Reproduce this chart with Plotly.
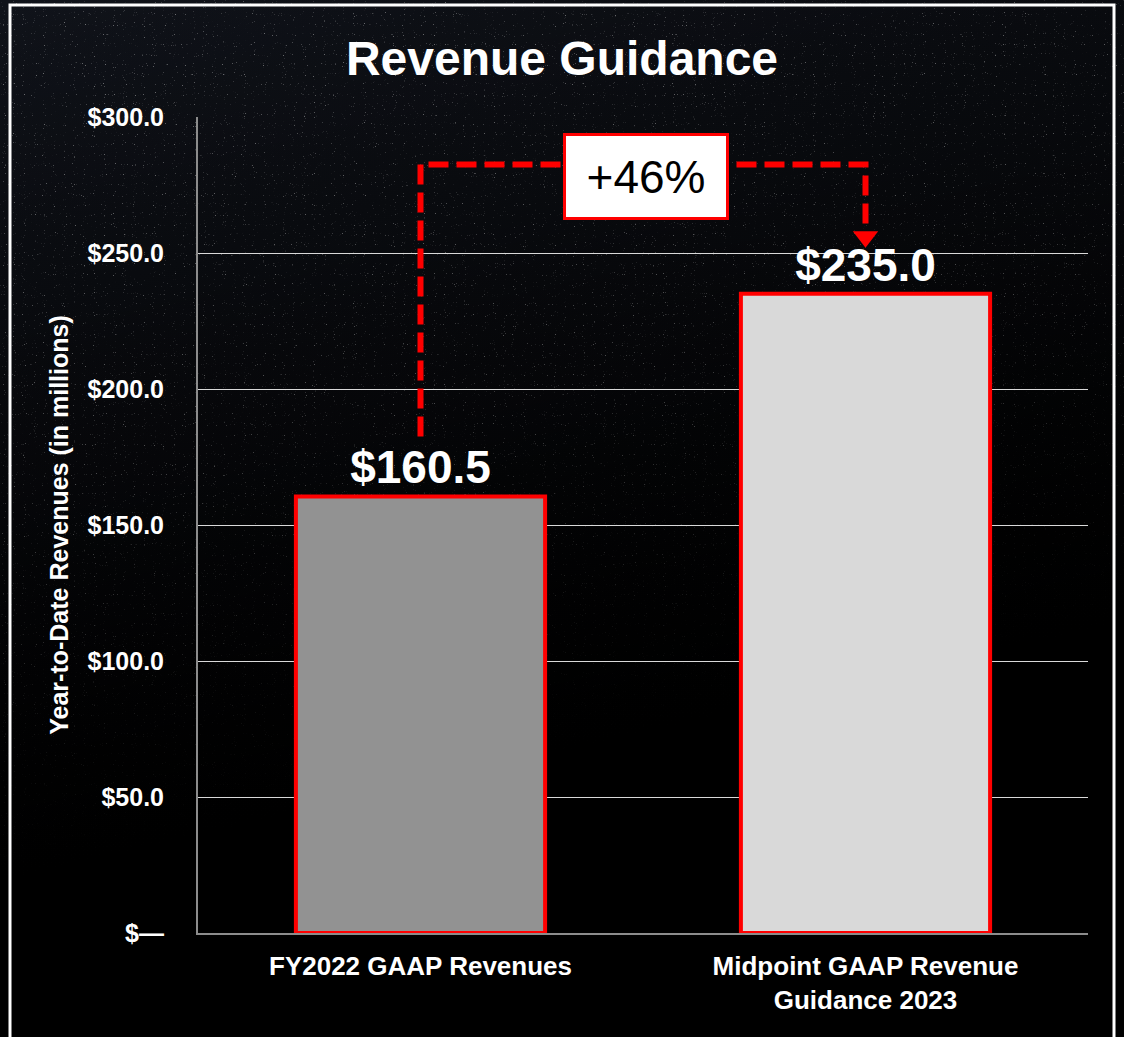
import base64
import plotly.graph_objects as go

# Chart data
categories = ["FY2022 GAAP Revenues", "Midpoint GAAP Revenue<br>Guidance 2023"]
revenues = [160.5, 235.0]
bar_colors = ["#929292", "#d9d9d9"]
tick_values = [0, 50, 100, 150, 200, 250, 300]
tick_labels = ["$\u2014" if v == 0 else f"${v:.1f}" for v in tick_values]

growth = round((revenues[1] / revenues[0] - 1) * 100)

FONT = "Liberation Sans, Arial, Helvetica, sans-serif"
W, H = 1124, 1037
M = dict(l=198, r=36, t=117, b=104)
pw = W - M["l"] - M["r"]
ph = H - M["t"] - M["b"]


def px_to_paper_x(px):
    return (px - M["l"]) / pw


def px_to_paper_y(py):
    return (H - M["b"] - py) / ph


# dark starry background as inline svg (noise specks fading to black)
svg = (
    '<svg xmlns="http://www.w3.org/2000/svg" width="1124" height="1037">'
    '<defs>'
    '<linearGradient id="g" x1="0" y1="0" x2="0.3" y2="1">'
    '<stop offset="0" stop-color="#10131a"/>'
    '<stop offset="0.55" stop-color="#06070a"/>'
    '<stop offset="1" stop-color="#000000"/>'
    '</linearGradient>'
    '<linearGradient id="f" x1="0" y1="0" x2="0.25" y2="1">'
    '<stop offset="0" stop-color="#000" stop-opacity="0"/>'
    '<stop offset="0.45" stop-color="#000" stop-opacity="0.3"/>'
    '<stop offset="0.8" stop-color="#000" stop-opacity="1"/>'
    '</linearGradient>'
    '<filter id="n" x="0" y="0" width="100%" height="100%">'
    '<feTurbulence type="fractalNoise" baseFrequency="0.9" numOctaves="1" seed="3"/>'
    '<feColorMatrix type="matrix" values="0 0 0 0 1  0 0 0 0 1  0 0 0 0 1  9 0 0 0 -6.2"/>'
    '<feComponentTransfer><feFuncA type="linear" slope="0.4"/></feComponentTransfer>'
    '</filter>'
    '</defs>'
    '<rect width="1124" height="1037" fill="url(#g)"/>'
    '<rect width="1124" height="1037" filter="url(#n)"/>'
    '<rect width="1124" height="1037" fill="url(#f)"/>'
    '</svg>'
)
bg_src = "data:image/svg+xml;base64," + base64.b64encode(svg.encode()).decode()

fig = go.Figure()

fig.add_trace(go.Bar(
    x=categories,
    y=revenues,
    marker=dict(color=bar_colors, line=dict(color="#ff0000", width=4)),
    width=0.56,
    texttemplate="$%{y:.1f}",
    textposition="outside",
    textfont=dict(size=46, color="white", family=FONT, weight="bold"),
    cliponaxis=False,
    hoverinfo="skip",
))

# dashed growth connector
line_start = revenues[0] + 22
line_top = max(revenues) + 47.5
arrow_y = revenues[1] + 21
fig.add_trace(go.Scatter(
    x=[categories[0], categories[0], categories[1], categories[1]],
    y=[line_start, line_top, line_top, arrow_y + 4],
    mode="lines",
    line=dict(color="#ff0000", width=6, dash="20px,8px"),
    hoverinfo="skip",
    cliponaxis=False,
))
fig.add_trace(go.Scatter(
    x=[categories[1]],
    y=[arrow_y],
    mode="markers",
    marker=dict(symbol="triangle-down", size=22, color="#ff0000", line=dict(width=0)),
    hoverinfo="skip",
    cliponaxis=False,
))

fig.add_annotation(
    x=0.506, y=max(revenues) + 43.3, xref="x", yref="y",
    text=f"+{growth}%",
    showarrow=False,
    font=dict(size=46, color="black", family=FONT),
    bgcolor="white", bordercolor="#ff0000", borderwidth=3, borderpad=0,
    width=160, height=81,
)

fig.update_layout(
    width=W, height=H, autosize=False,
    margin=M,
    paper_bgcolor="#000000",
    plot_bgcolor="rgba(0,0,0,0)",
    showlegend=False,
    font=dict(family=FONT, color="white"),
    title=dict(
        text="<b>Revenue Guidance</b>",
        x=0.5, xanchor="center",
        y=1 - 58 / H, yanchor="middle",
        font=dict(size=48, color="white", family=FONT),
    ),
    images=[dict(
        source=bg_src, xref="paper", yref="paper",
        x=px_to_paper_x(0), y=px_to_paper_y(0),
        sizex=W / pw, sizey=H / ph,
        xanchor="left", yanchor="top",
        sizing="stretch", layer="below",
    )],
    # white frame around the chart
    shapes=[dict(
        type="rect", xref="paper", yref="paper",
        x0=px_to_paper_x(10), x1=px_to_paper_x(1114),
        y0=px_to_paper_y(1060), y1=px_to_paper_y(5),
        line=dict(color="white", width=3),
        fillcolor="rgba(0,0,0,0)",
        layer="above",
    )],
    bargap=0.44,
)

fig.update_yaxes(
    range=[0, 300],
    tickvals=tick_values,
    ticktext=tick_labels,
    tickfont=dict(size=25, color="white", family=FONT, weight="bold"),
    ticklabelstandoff=27,
    showgrid=True, gridcolor="#d9d9d9", gridwidth=1,
    showline=True, linecolor="#8c8c8c", linewidth=2,
    zeroline=False,
    ticks="",
    title=dict(
        text="<b>Year-to-Date Revenues (in millions)</b>",
        font=dict(size=25, color="white", family=FONT),
        standoff=12,
    ),
)

fig.update_xaxes(
    tickfont=dict(size=26, color="white", family=FONT, weight="bold"),
    showline=True, linecolor="#8c8c8c", linewidth=2,
    ticks="",
    ticklabelstandoff=9,
    showgrid=False,
)

fig.write_html(
    "out.html",
    config={"displayModeBar": False},
    post_script="document.body.style.margin='0';document.body.style.background='#000';",
)
